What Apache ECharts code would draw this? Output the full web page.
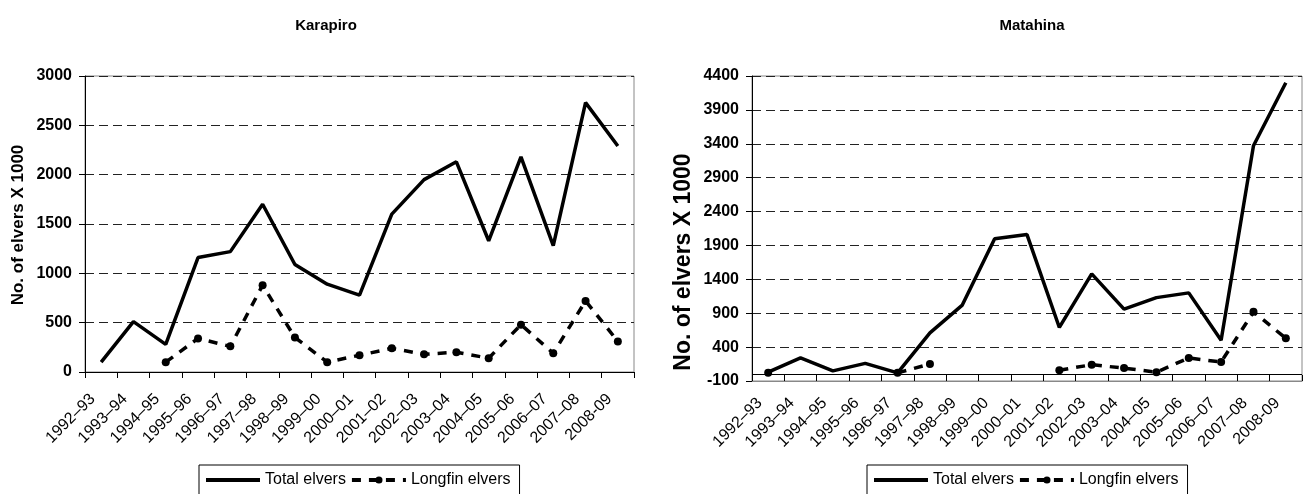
<!DOCTYPE html>
<html>
<head>
<meta charset="utf-8">
<script src="https://cdn.jsdelivr.net/npm/echarts@6/dist/echarts.min.js"></script>
<style>
html,body{margin:0;padding:0;background:#fff;}
#chart{width:1306px;height:494px;}
</style>
</head>
<body>
<div id="chart"></div>
<script>
var categories = ['1992\u201393','1993\u201394','1994\u201395','1995\u201396','1996\u201397','1997\u201398','1998\u201399','1999\u201300','2000\u201301','2001\u201302','2002\u201303','2003\u201304','2004\u201305','2005\u201306','2006\u201307','2007\u201308','2008-09'];
var karapiroTotal   = [100, 510, 280, 1160, 1220, 1700, 1090, 890, 780, 1600, 1950, 2130, 1330, 2180, 1280, 2730, 2290];
var karapiroLongfin = [null, null, 100, 340, 260, 880, 350, 100, 170, 240, 180, 200, 140, 480, 190, 720, 310];
var matahinaTotal   = [30, 240, 50, 160, 20, 610, 1020, 2000, 2060, 690, 1480, 960, 1130, 1200, 500, 3370, 4300];
var matahinaLongfin = [20, null, null, null, 20, 150, null, null, null, 60, 140, 90, 30, 240, 180, 920, 530];
var karapiroTicks = {min: 0, max: 3000, interval: 500};
var matahinaTicks = {min: -100, max: 4400, interval: 500};
var titles = ['Karapiro', 'Matahina'];
var yName = 'No. of elvers X 1000';
var seriesNames = ['Total elvers', 'Longfin elvers'];

var FONT = '"Liberation Sans", Arial, sans-serif';
var chart = echarts.init(document.getElementById('chart'), null, {renderer: 'canvas'});

function xAxisCfg(gi, margin, tickInside) {
  return {
    type: 'category', gridIndex: gi, data: categories, boundaryGap: true,
    axisLine: {show: true, onZero: false, lineStyle: {color: tickInside ? '#888' : '#000', width: 1}},
    axisTick: {show: true, inside: tickInside, length: 6, alignWithLabel: false, interval: 0, lineStyle: {color: '#000'}},
    axisLabel: {interval: 0, rotate: 45, fontSize: 16, color: '#000', fontFamily: FONT, margin: margin,
      padding: [0, 12, 0, 0]},
    splitLine: {show: false}
  };
}
function yAxisCfg(gi, t) {
  return {
    type: 'value', gridIndex: gi, min: t.min, max: t.max, interval: t.interval,
    axisLine: {show: true, lineStyle: {color: '#000', width: 1}},
    axisTick: {show: true, length: 6, lineStyle: {color: '#000'}},
    axisLabel: {fontSize: 16, fontWeight: 'bold', color: '#000', fontFamily: FONT, margin: 13,
      formatter: function (v) { return String(v); }},
    splitLine: {show: true, lineStyle: {color: '#222', width: 1, type: [9, 5]}}
  };
}
function lineSeries(name, data, gi, dashed) {
  var s = {
    name: name, type: 'line', xAxisIndex: gi, yAxisIndex: gi, data: data,
    connectNulls: false, animation: false, silent: true,
    lineStyle: {color: '#000', width: 3.5, type: dashed ? [9, 8] : 'solid'},
    itemStyle: {color: '#000'}
  };
  if (dashed) { s.symbol = 'circle'; s.symbolSize = 8; s.showSymbol = true; }
  else { s.symbol = 'none'; s.showSymbol = false; }
  return s;
}
function legendCfg(left) {
  return {
    show: true, left: left, top: 465, orient: 'horizontal',
    data: [
      {name: seriesNames[0], itemStyle: {opacity: 0}, lineStyle: {width: 4}},
      {name: seriesNames[1], lineStyle: {width: 4}}
    ],
    itemWidth: 54, itemHeight: 9, itemGap: 4,
    padding: [7, 9, 30, 5], borderColor: '#000', borderWidth: 1, backgroundColor: '#fff',
    textStyle: {fontSize: 16, color: '#000', fontFamily: FONT}, selectedMode: false
  };
}

var zeroLine = {
  silent: true, symbol: 'none', animation: false,
  label: {show: false},
  lineStyle: {color: '#000', width: 1, type: 'solid'},
  data: [{yAxis: 0}]
};

var option = {
  backgroundColor: '#fff',
  animation: false,
  title: [
    {text: titles[0], left: 326, top: 18, textAlign: 'center', padding: 0,
     textStyle: {fontSize: 15, fontWeight: 'bold', color: '#000', fontFamily: FONT}},
    {text: titles[1], left: 1032, top: 18, textAlign: 'center', padding: 0,
     textStyle: {fontSize: 15, fontWeight: 'bold', color: '#000', fontFamily: FONT}}
  ],
  grid: [
    {left: 85, right: 672, top: 76, bottom: 122, show: true, borderColor: '#888', borderWidth: 1, containLabel: false, outerBoundsMode: 'none'},
    {left: 752, right: 4, top: 76, bottom: 113, show: true, borderColor: '#888', borderWidth: 1, containLabel: false, outerBoundsMode: 'none'}
  ],
  xAxis: [xAxisCfg(0, 16, false), xAxisCfg(1, 11, true)],
  yAxis: [yAxisCfg(0, karapiroTicks), yAxisCfg(1, matahinaTicks)],
  legend: [legendCfg(199), legendCfg(867)],
  graphic: [
    {type: 'text', x: 18, y: 225, rotation: Math.PI / 2,
     style: {text: yName, fontSize: 17, fontWeight: 'bold', fill: '#000', fontFamily: FONT, align: 'center', verticalAlign: 'middle'}},
    {type: 'text', x: 684, y: 262, rotation: Math.PI / 2,
     style: {text: yName, fontSize: 23, fontWeight: 'bold', fill: '#000', fontFamily: FONT, align: 'center', verticalAlign: 'middle'}}
  ],
  series: [
    lineSeries(seriesNames[0], karapiroTotal, 0, false),
    lineSeries(seriesNames[1], karapiroLongfin, 0, true),
    Object.assign(lineSeries(seriesNames[0], matahinaTotal, 1, false), {markLine: zeroLine}),
    lineSeries(seriesNames[1], matahinaLongfin, 1, true)
  ]
};
chart.setOption(option);
</script>
</body>
</html>
